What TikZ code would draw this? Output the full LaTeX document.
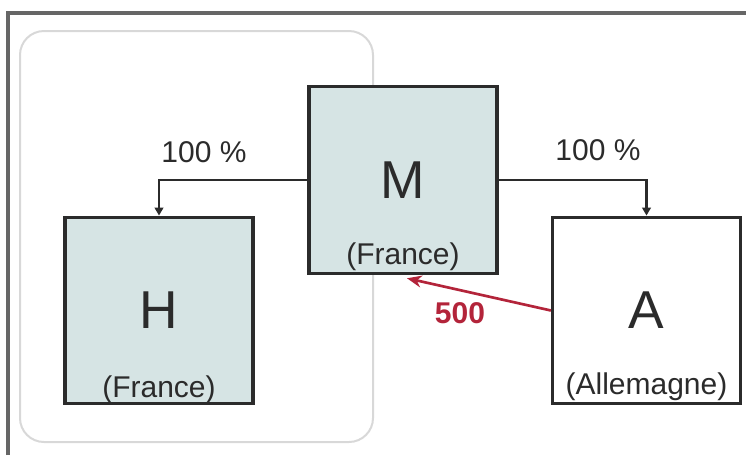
\documentclass[tikz,border=0pt]{standalone}
\usepackage{fontspec}
\usepackage{tikz}
\usepackage{xcolor}
\usetikzlibrary{arrows.meta,calc,positioning}
\newfontfamily\diagfont{Liberation Sans}
\definecolor{BoxFill}{HTML}{D6E4E4}
\definecolor{BoxLine}{HTML}{2B2B2B}
\definecolor{FrameGray}{HTML}{666666}
\definecolor{GroupGray}{HTML}{D8D8D8}
\definecolor{FlowRed}{HTML}{B3243A}
\tikzset{
    company/.style={draw=BoxLine, line width=2.4pt, minimum width=141pt, minimum height=140pt,
        inner sep=0pt, font=\diagfont\fontsize{40}{44}\selectfont, text=BoxLine},
    country/.style={font=\diagfont\fontsize{22.5}{26}\selectfont, text=BoxLine, inner sep=0pt, anchor=base},
    share/.style={font=\diagfont\fontsize{22.5}{26}\selectfont, text=BoxLine, inner sep=0pt, anchor=base},
    link/.style={draw=BoxLine, line width=2pt, -{Triangle[length=6pt,width=6.5pt]}},
    payment/.style={draw=FlowRed, line width=2pt, -{Stealth[length=11pt,width=9pt]}}
}

\begin{document}
\begin{tikzpicture}[x=0.75pt, y=-0.75pt]
    \useasboundingbox (0,0) rectangle (746,455);

    % Frame
    \draw[FrameGray, line width=2.4pt] (8,455) -- (8,13) -- (746,13);

    % French group
    \draw[GroupGray, line width=1.5pt, rounded corners=18pt] (20,31) rectangle (373,442);

    % Companies
    \node[company, fill=BoxFill] (M) at (403,180) {M};
    \node[company, fill=BoxFill] (H) at (159,310.5) {H};
    \node[company, fill=white] (A) at (646.5,310.5) {A};

    \node[country] (Mland) at ([yshift=8pt]M.south) {(France)};
    \node[country] (Hland) at ([yshift=6pt]H.south) {(France)};
    \node[country] (Aland) at ([yshift=8pt]A.south) {(Allemagne)};

    % Holdings
    \draw[link] (M.west) -| (H.north);
    \draw[link] (M.east) -| (A.north);
    \node[share] (Hshare) at (204,162) {100 \%};
    \node[share] (Ashare) at (598,160) {100 \%};

    % Payment
    \draw[payment] (A.west) -- ([xshift=3pt,yshift=-2.5pt]M.south);
    \node[font=\diagfont\bfseries\fontsize{22.5}{26}\selectfont, text=FlowRed] (amount) at (460,313) {500};

\end{tikzpicture}
\end{document}
